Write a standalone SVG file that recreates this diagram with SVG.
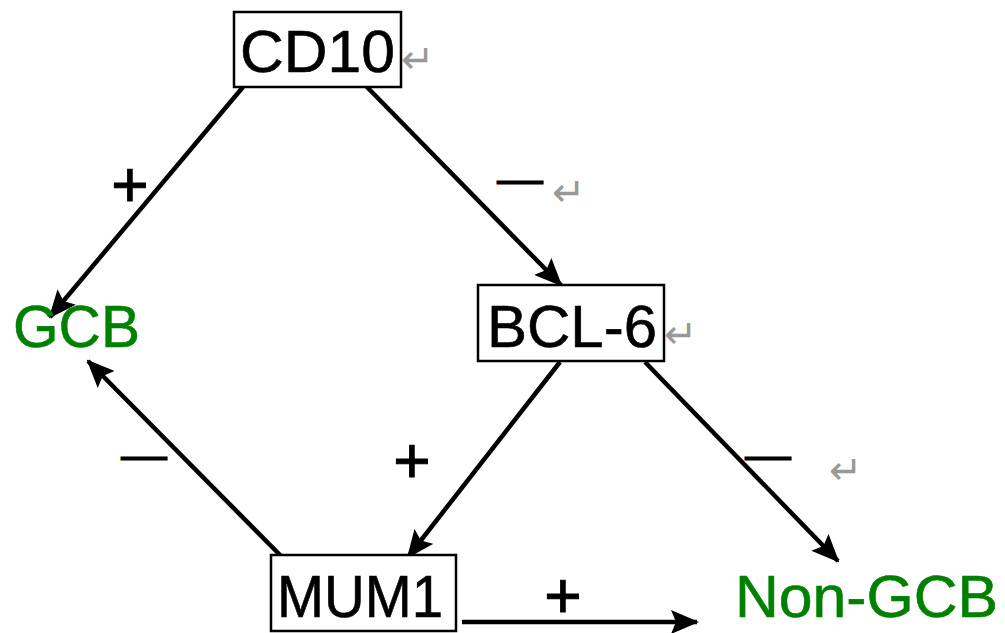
<svg xmlns="http://www.w3.org/2000/svg" width="1005" height="633" viewBox="0 0 1005 633">
<style>
.box{fill:#fff;stroke:#000;stroke-width:2.5}
.lbl{font-family:"Liberation Sans",Arial,sans-serif;font-size:60px;fill:#000;stroke:#000;stroke-width:0.6}
.green{fill:#008000;stroke:#008000}
.sign{font-family:"Liberation Sans",Arial,sans-serif;fill:#000;stroke:#000;stroke-width:1}
.ret{font-family:"DejaVu Sans",sans-serif;font-size:40px;fill:#999}
.edge{stroke:#000;stroke-width:4.5;fill:none;marker-end:url(#ah)}
</style>
<defs>
<marker id="ah" markerUnits="userSpaceOnUse" viewBox="0 0 28 24" refX="26" refY="12" markerWidth="28" markerHeight="24" orient="auto">
<path d="M0,0 L28,12 L0,24 L5,12 z" fill="#000"/>
</marker>
</defs>
<rect width="1005" height="633" fill="#fff"/>
<g id="connectors">
<line class="edge" x1="243" y1="87" x2="50" y2="317"/>
<line class="edge" x1="366" y1="86" x2="561" y2="285"/>
<line class="edge" x1="560" y1="362" x2="408" y2="557"/>
<line class="edge" x1="645" y1="362" x2="838" y2="561"/>
<line class="edge" x1="281" y1="556" x2="88" y2="361"/>
<line class="edge" x1="462" y1="622" x2="697" y2="622"/>
<text class="sign" x="130" y="207" font-size="64" text-anchor="middle">+</text>
<text class="sign" x="412" y="483" font-size="64" text-anchor="middle">+</text>
<text class="sign" x="563" y="618" font-size="64" text-anchor="middle">+</text>
<text class="sign" x="497" y="194" font-size="46">—</text>
<text class="sign" x="121" y="470" font-size="46">—</text>
<text class="sign" x="745" y="470" font-size="46">—</text>
<text class="ret" x="552" y="206">↵</text>
<text class="ret" x="829" y="484">↵</text>
</g>
<g id="cd10">
<rect class="box" x="234" y="12" width="167" height="75"/>
<text class="lbl" x="240" y="72" textLength="155" lengthAdjust="spacingAndGlyphs">CD10</text>
<text class="ret" x="401" y="73">↵</text>
</g>
<g id="bcl6">
<rect class="box" x="478" y="285" width="186" height="76"/>
<text class="lbl" x="487" y="347" textLength="170" lengthAdjust="spacingAndGlyphs">BCL-6</text>
<text class="ret" x="664" y="348">↵</text>
</g>
<g id="mum1">
<rect class="box" x="271" y="555" width="185" height="76"/>
<text class="lbl" x="277" y="617" textLength="166" lengthAdjust="spacingAndGlyphs">MUM1</text>
</g>
<g id="gcb">
<text class="lbl green" x="13" y="347" textLength="127" lengthAdjust="spacingAndGlyphs">GCB</text>
</g>
<g id="nongcb">
<text class="lbl green" x="735" y="617" textLength="263" lengthAdjust="spacingAndGlyphs">Non-GCB</text>
</g>
</svg>
